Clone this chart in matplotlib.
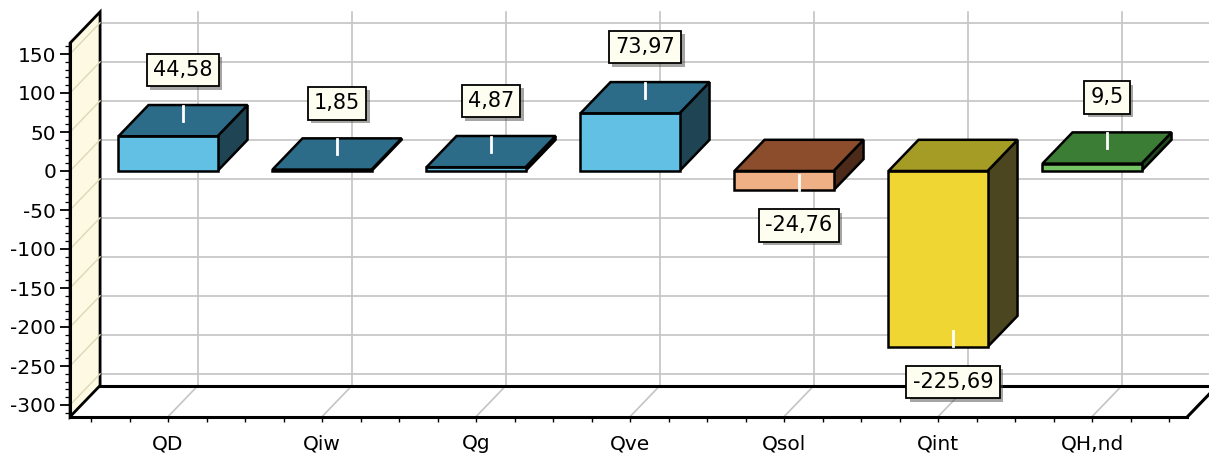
"""Balanço térmico - gráfico de barras em pseudo-3D"""

import matplotlib
matplotlib.use('Agg')
import matplotlib.pyplot as plt
from matplotlib.patches import Polygon
from matplotlib.ticker import FixedLocator
import matplotlib.patheffects as pe
import numpy as np

plt.rcParams['axes.unicode_minus'] = False

# dados
categorias = ['QD', 'Qiw', 'Qg', 'Qve', 'Qsol', 'Qint', 'QH,nd']
valores = [44.58, 1.85, 4.87, 73.97, -24.76, -225.69, 9.5]

# cores (frente, topo, lado)
cor_frente = ['#62c0e4', '#62c0e4', '#62c0e4', '#62c0e4', '#eeb084', '#f0d633', '#74c463']
cor_topo = ['#2d6c88', '#2d6c88', '#2d6c88', '#2d6c88', '#8c4d2c', '#a59c26', '#3b7d35']
cor_lado = ['#1f4454', '#1f4454', '#1f4454', '#1f4454', '#4c2a1a', '#4b4520', '#21481d']

# geometria (eixos em unidades de dados)
XMIN, XMAX = -0.636, 6.62
YMIN, YMAX = -315, 164
DX, DY = 0.195, 40          # profundidade
LARG = 0.643                # largura das barras
PXV = 0.78                  # pixels por unidade

fig = plt.figure(figsize=(12.09, 4.55), dpi=100)
ax = fig.add_axes([0, 0, 1, 1])
ax.set_xlim(-168 / 154, (1209 - 168) / 154)
ax.set_ylim((171 - 455) / PXV, 171 / PXV)
ax.patch.set_visible(False)
fig.patch.set_facecolor('white')

# parede esquerda
ax.add_patch(Polygon([(XMIN, YMIN), (XMIN, YMAX), (XMIN + DX, YMAX + DY), (XMIN + DX, YMIN + DY)],
                     closed=True, facecolor='#fdf9e2', edgecolor='black', lw=2, zorder=1))

grid_kw = dict(color='#c4c4c4', lw=1.2, zorder=0.5)
for v in range(-300, 151, 50):
    ax.plot([XMIN + DX, XMAX + DX + 0.5], [v + DY, v + DY], **grid_kw)
    ax.plot([XMIN, XMIN + DX], [v, v + DY], color='#ddd8b8', lw=1, zorder=1.1)
for i in range(len(categorias)):
    ax.plot([i + DX, i + DX], [YMIN + DY, YMAX + DY], **grid_kw)
    ax.plot([i, i + DX], [YMIN, YMIN + DY], **grid_kw)

# chão
ax.plot([XMIN + DX, XMAX + DX], [YMIN + DY, YMIN + DY], color='black', lw=2.2, zorder=1.5)
ax.plot([XMAX, XMAX + DX], [YMIN, YMIN + DY], color='black', lw=2.2, zorder=1.5)

# barras
for i, (v, cf, ct, cl) in enumerate(zip(valores, cor_frente, cor_topo, cor_lado)):
    lo, hi = min(0, v), max(0, v)
    x0, x1 = i - LARG / 2, i + LARG / 2
    ax.add_patch(Polygon([(x1, lo), (x1, hi), (x1 + DX, hi + DY), (x1 + DX, lo + DY)],
                         facecolor=cl, edgecolor='black', lw=1.8, zorder=3))
    ax.add_patch(Polygon([(x0, lo), (x1, lo), (x1, hi), (x0, hi)],
                         facecolor=cf, edgecolor='black', lw=1.8, zorder=3))
    ax.add_patch(Polygon([(x0, hi), (x1, hi), (x1 + DX, hi + DY), (x0 + DX, hi + DY)],
                         facecolor=ct, edgecolor='black', lw=1.8, zorder=3))

    # rótulo
    xm = i + DX / 2
    sinal = 1 if v >= 0 else -1
    ym = (hi if v >= 0 else lo) + DY / 2
    ax.plot([xm, xm], [ym, ym + sinal * 19], color='white', lw=2, zorder=4)
    txt = ax.text(xm, ym + sinal * 65, f'{v:g}'.replace('.', ','),
                  ha='center', va='center', fontsize=15, zorder=5,
                  bbox=dict(boxstyle='square,pad=0.3', facecolor='#fdfdf0',
                            edgecolor='black', lw=1.3))
    txt.get_bbox_patch().set_path_effects([pe.SimplePatchShadow(offset=(2.5, -2.5), alpha=0.5),
                                           pe.Normal()])

# eixos
for s in ['top', 'right']:
    ax.spines[s].set_visible(False)
ax.spines['left'].set_position(('data', XMIN))
ax.spines['left'].set_bounds(YMIN, YMAX)
ax.spines['bottom'].set_position(('data', YMIN))
ax.spines['bottom'].set_bounds(XMIN, XMAX)
for s in ['left', 'bottom']:
    ax.spines[s].set_linewidth(2.2)
    ax.spines[s].set_zorder(2)

ax.set_yticks(range(-300, 151, 50))
ax.yaxis.set_minor_locator(FixedLocator(np.arange(-310, 161, 10)))
ax.set_xticks(range(len(categorias)))
ax.set_xticklabels(categorias)
ax.xaxis.set_minor_locator(FixedLocator(np.arange(-0.5, 6.51, 0.25)))
ax.tick_params(axis='y', which='major', length=7, width=1.3, labelsize=14.5, pad=3)
ax.tick_params(axis='y', which='minor', length=3.5, width=0.9)
ax.tick_params(axis='x', which='both', length=3.5, width=1, labelsize=14.5, pad=9)

plt.savefig('out.png', dpi=100)
plt.close()
